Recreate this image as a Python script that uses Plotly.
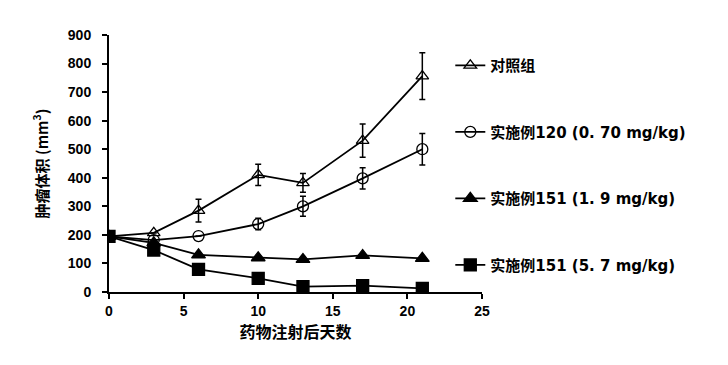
import plotly.graph_objects as go

days = [0, 3, 6, 10, 13, 17, 21]
names = ["对照组", "实施例120 (0. 70 mg/kg)", "实施例151 (1. 9 mg/kg)", "实施例151 (5. 7 mg/kg)"]
control = [195, 207, 285, 410, 382, 530, 756]
control_err = [0, 0, 40, 37, 33, 58, 82]
ex120 = [195, 182, 196, 238, 300, 398, 500]
ex120_err = [0, 0, 0, 20, 35, 37, 55]
ex151_low = [195, 172, 130, 120, 114, 128, 118]
ex151_low_err = [0, 0, 0, 0, 0, 0, 0]
ex151_high = [195, 147, 79, 48, 19, 22, 13]
ex151_high_err = [0, 0, 0, 0, 0, 0, 0]
x_ticks = [0, 5, 10, 15, 20, 25]
y_ticks = [0, 100, 200, 300, 400, 500, 600, 700, 800, 900]

series = [
    (names[0], control, control_err, "triangle-up-open", 11),
    (names[1], ex120, ex120_err, "circle-open", 11),
    (names[2], ex151_low, ex151_low_err, "triangle-up", 12),
    (names[3], ex151_high, ex151_high_err, "square", 12),
]

fig = go.Figure()
for i, (nm, ys, er, sym, sz) in enumerate(series):
    fig.add_trace(go.Scatter(
        x=days, y=ys, name=nm, mode="lines+markers",
        legendgroup=f"g{i}",
        line=dict(color="black", width=1.8),
        marker=dict(symbol=sym, size=sz, color="black", line=dict(color="black", width=1.3)),
        error_y=dict(type="data", array=er, visible=True, color="black", thickness=1.5, width=3),
    ))

font_cjk = "Noto Sans CJK SC, Liberation Sans, Arial"
font_leg = "DejaVu Sans, Noto Sans CJK SC"
fig.update_layout(
    width=728, height=365,
    margin=dict(l=109, r=246, t=35, b=73),
    paper_bgcolor="white", plot_bgcolor="white",
    showlegend=True,
    legend=dict(
        x=0.915, y=0.945, xanchor="left", yanchor="top",
        font=dict(family=font_leg, size=15, color="black", weight="bold"),
        tracegroupgap=44, itemwidth=30, traceorder="grouped",
        bgcolor="rgba(0,0,0,0)",
    ),
    xaxis=dict(
        range=[0, 25], tickvals=x_ticks, showgrid=False, zeroline=False,
        showline=True, linecolor="black", linewidth=2,
        ticks="outside", ticklen=5, tickwidth=2, tickcolor="black",
        tickfont=dict(family="Liberation Sans, Arial", size=14, color="black", weight="bold"),
        title=dict(text="药物注射后天数", font=dict(family=font_cjk, size=16, color="black", weight="bold"), standoff=8),
    ),
    yaxis=dict(
        range=[0, 900], tickvals=y_ticks, showgrid=False, zeroline=False,
        showline=True, linecolor="black", linewidth=2,
        ticks="outside", ticklen=5, tickwidth=2, tickcolor="black",
        ticklabelstandoff=8,
        tickfont=dict(family="Liberation Sans, Arial", size=14, color="black", weight="bold"),
        title=dict(text="肿瘤体积 (mm<sup>3</sup>)", font=dict(family=font_cjk, size=15, color="black", weight="bold"), standoff=16),
    ),
)

fig.write_html("out.html")
